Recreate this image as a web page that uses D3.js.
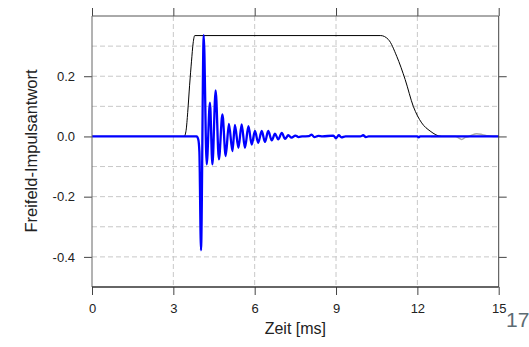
<!DOCTYPE html>
<html><head><meta charset="utf-8">
<script src="https://cdn.jsdelivr.net/npm/d3@7"></script>
<style>body{margin:0;background:#fff}svg{display:block}</style>
</head><body>
<svg id="c" width="529" height="347"></svg>
<script>
// ---- data ----
const xTicks = [0, 3, 6, 9, 12, 15];
const yTicks = [-0.4, -0.2, 0, 0.2];
const yGrid = [-0.4, -0.3, -0.2, -0.1, 0.1, 0.2, 0.3];
const xGrid = [3, 6, 9, 12];
const xLabel = "Zeit [ms]";
const yLabel = "Freifeld-Impulsantwort";
const pageNumber = "17";

// window (black)
const windowT = [0, 3.40, 3.47, 3.53, 3.60, 3.67, 3.73, 3.79, 10.65, 10.93, 11.24, 11.55, 11.85, 12.16, 12.47, 12.9, 15];
const windowV = [0, 0, 0.02, 0.08, 0.17, 0.25, 0.31, 0.335, 0.335, 0.322, 0.266, 0.189, 0.10, 0.045, 0.018, 0.0, 0];

// windowed impulse response (blue)
const respT = [0, 3.86, 3.92, 3.96, 4.02, 4.12, 4.23, 4.35, 4.44, 4.56, 4.68, 4.81, 4.93, 5.05, 5.18, 5.27, 5.40, 5.52, 5.64, 5.77, 5.89, 6.01, 6.13, 6.26, 6.38, 6.50, 6.63, 6.75, 6.87, 7.00, 7.12, 7.24, 7.36, 7.50, 7.62, 7.75, 8.00, 8.10, 8.20, 8.35, 8.50, 8.90, 9.00, 9.10, 9.20, 9.35, 9.90, 10.00, 10.10, 10.20, 12.00, 12.05, 12.10, 15];
const respV = [0, 0, -0.01, -0.05, -0.378, 0.336, -0.093, 0.112, -0.093, 0.153, -0.076, 0.073, -0.065, 0.042, -0.049, 0.038, -0.038, 0.040, -0.038, 0.034, -0.027, 0.018, -0.021, 0.018, -0.018, 0.018, -0.013, 0.009, -0.010, 0.012, -0.008, 0.004, -0.004, 0.003, -0.002, 0, 0.001, 0.006, -0.002, 0.002, 0, 0.003, -0.006, 0.004, -0.003, 0, 0, 0.004, -0.002, 0, 0, -0.003, 0, 0];

// raw response tail (grey)
const rawT = [12.5, 13.40, 13.55, 13.64, 13.75, 13.90, 14.00, 14.19, 14.40, 14.60, 14.80, 15];
const rawV = [0, 0, -0.006, -0.010, -0.004, 0, 0.004, 0.009, 0.006, 0.002, 0, 0];

// ---- chart ----
const svg = d3.select("#c");
const L = 92, R = 498.7, T = 16, B = 287;
const x = d3.scaleLinear().domain([0, 15]).range([L, R]);
const y = d3.scaleLinear().domain([-0.5, 0.4]).range([B, T]);
const font = "'Liberation Sans', Arial, sans-serif";

// grid
const g = svg.append("g").attr("stroke", "#c8c8c8").attr("stroke-dasharray", "5,3").attr("stroke-width", 1);
g.selectAll(".gx").data(xGrid).join("line")
  .attr("x1", d => x(d)).attr("x2", d => x(d)).attr("y1", T).attr("y2", B);
g.selectAll(".gy").data(yGrid).join("line")
  .attr("x1", L).attr("x2", R).attr("y1", d => y(d)).attr("y2", d => y(d));

// series
const line = d3.line().x(d => x(d[0])).y(d => y(d[1])).curve(d3.curveMonotoneX);
svg.append("path").datum(rawT.map((t, i) => [t, rawV[i]]))
  .attr("d", line).attr("fill", "none").attr("stroke", "#a8a8a8").attr("stroke-width", 1.5);
svg.append("path").datum(windowT.map((t, i) => [t, windowV[i]]))
  .attr("d", line).attr("fill", "none").attr("stroke", "#000").attr("stroke-width", 1);
svg.append("path").datum(respT.map((t, i) => [t, respV[i]]))
  .attr("d", line).attr("fill", "none").attr("stroke", "#0000ff").attr("stroke-width", 2.3).attr("stroke-linejoin", "round");

// axes
function style(sel) {
  sel.select(".domain").remove();
  sel.selectAll(".tick line").attr("stroke", "#444");
  sel.selectAll(".tick text").attr("fill", "#222").style("font-family", font).style("font-size", "13px");
}
svg.append("g").attr("transform", `translate(${L},0)`)
  .call(d3.axisLeft(y).tickValues(yTicks).tickSize(8).tickPadding(9).tickFormat(d => d.toFixed(1))).call(style);
svg.append("g").attr("transform", `translate(${R},0)`)
  .call(d3.axisRight(y).tickValues(yTicks).tickSize(8).tickFormat("")).call(style);
svg.append("g").attr("transform", `translate(0,${B})`)
  .call(d3.axisBottom(x).tickValues(xTicks).tickSize(8).tickPadding(9).tickFormat(d3.format("d"))).call(style);
svg.append("g").attr("transform", `translate(0,${T})`)
  .call(d3.axisTop(x).tickValues(xTicks).tickSize(8).tickFormat("")).call(style);

// frame
svg.append("line").attr("x1", L).attr("x2", R).attr("y1", T).attr("y2", T).attr("stroke", "#555");
svg.append("line").attr("x1", L).attr("x2", L).attr("y1", T).attr("y2", B).attr("stroke", "#666");
svg.append("line").attr("x1", R).attr("x2", R).attr("y1", T).attr("y2", B).attr("stroke", "#444");
svg.append("line").attr("x1", L).attr("x2", R).attr("y1", B).attr("y2", B).attr("stroke", "#333").attr("stroke-width", 1.5);

// labels
svg.append("text").attr("x", (L + R) / 2).attr("y", 334).attr("text-anchor", "middle")
  .style("font-family", font).style("font-size", "16px").attr("fill", "#222").text(xLabel);
svg.append("text").attr("transform", `translate(37,151) rotate(-90)`).attr("text-anchor", "middle")
  .style("font-family", font).style("font-size", "16.5px").attr("fill", "#222").text(yLabel);
svg.append("text").attr("x", 506).attr("y", 327)
  .style("font-family", font).style("font-size", "21px").attr("fill", "#5c6b73").text(pageNumber);
</script>
</body></html>
